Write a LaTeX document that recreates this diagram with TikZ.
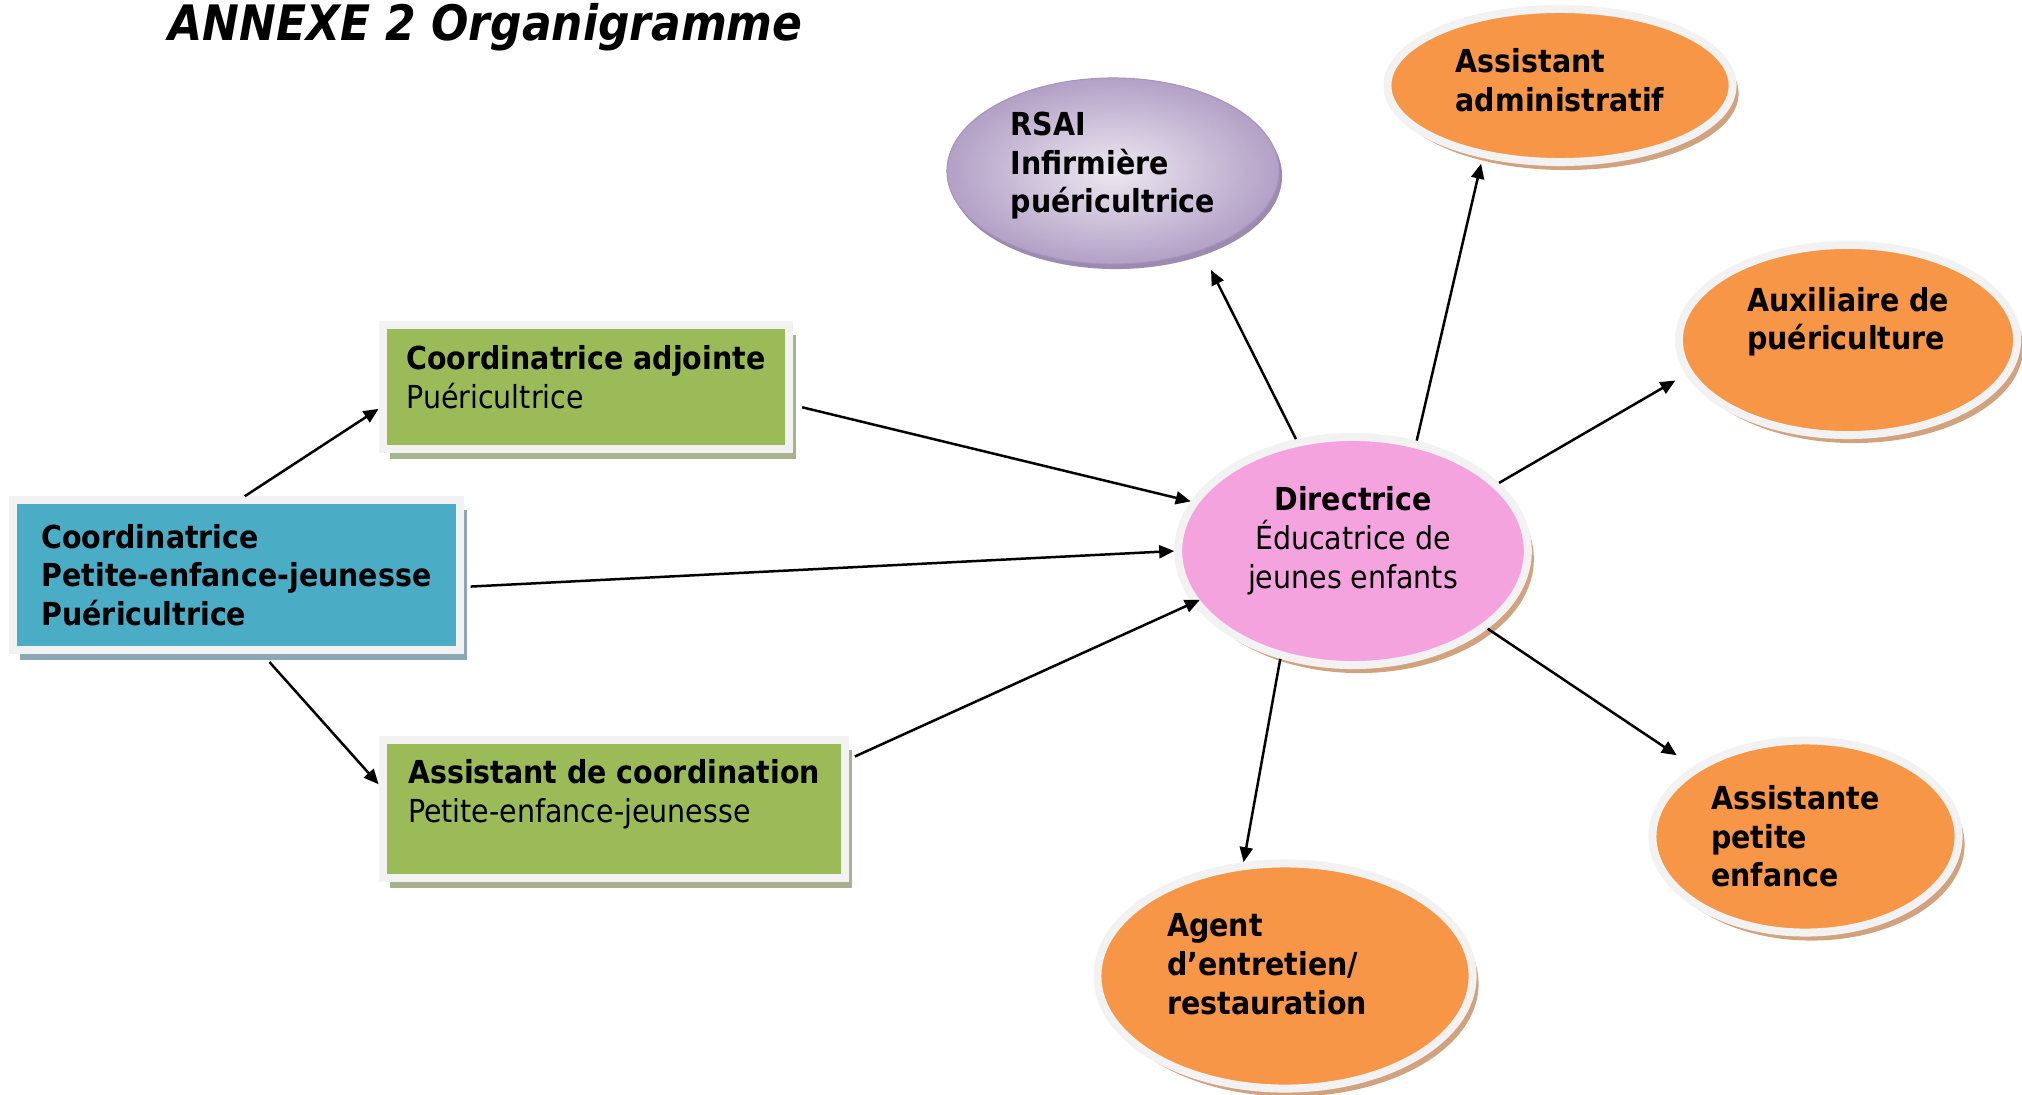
\documentclass[tikz,border=0pt]{standalone}
\usepackage{fontspec}
\setmainfont{DejaVu Sans Condensed}[
  BoldFont={DejaVu Sans Condensed Bold},
  ItalicFont={DejaVu Sans Condensed Oblique},
  BoldItalicFont={DejaVu Sans Condensed Bold Oblique}]
\usetikzlibrary{shapes.geometric,shadows,arrows.meta}

\definecolor{coordblue}{HTML}{4BACC6}
\definecolor{staffgreen}{HTML}{9BBB59}
\definecolor{stafforange}{HTML}{F79646}
\definecolor{directpink}{HTML}{F5A3DF}
\definecolor{framegray}{HTML}{F2F2F2}
\definecolor{blueshadow}{HTML}{8CA8B5}
\definecolor{greenshadow}{HTML}{A7B28F}
\definecolor{ellshadow}{HTML}{D2A27F}
\definecolor{rsaiinner}{HTML}{EDE8F1}
\definecolor{rsaiouter}{HTML}{B3A0C6}
\definecolor{rsaiedge}{HTML}{A793BC}
\definecolor{rsaishadow}{HTML}{9C8AB0}

% extra depth under the last line, lifts the text in its shape
\newcommand{\padlow}[1]{\rule[-#1]{0pt}{#1}}

\tikzset{
  basebox/.style={rectangle, draw=framegray, line width=0.08cm, inner sep=0pt,
    align=left, font=\fontsize{9pt}{11pt}\selectfont},
  bluebox/.style={basebox, fill=coordblue, font=\fontsize{9pt}{11pt}\selectfont\bfseries,
    drop shadow={shadow xshift=0.07cm, shadow yshift=-0.10cm, fill=blueshadow, opacity=1}},
  greenbox/.style={basebox, fill=staffgreen,
    drop shadow={shadow xshift=0.07cm, shadow yshift=-0.10cm, fill=greenshadow, opacity=1}},
  ring/.style={ellipse, draw=framegray, line width=0.08cm, inner sep=0pt,
    align=left, font=\fontsize{9pt}{11pt}\selectfont\bfseries,
    drop shadow={shadow xshift=0.06cm, shadow yshift=-0.08cm, fill=ellshadow, opacity=1}},
  pinkring/.style={ring, fill=directpink, align=center, font=\fontsize{9pt}{11pt}\selectfont},
  orangering/.style={ring, fill=stafforange},
  rsaioval/.style={ellipse, draw=rsaiedge, line width=0.01cm, inner sep=0pt,
    shading=radial, inner color=rsaiinner, outer color=rsaiouter,
    align=left, font=\fontsize{9pt}{11pt}\selectfont\bfseries,
    drop shadow={shadow xshift=0.03cm, shadow yshift=-0.05cm, fill=rsaishadow, opacity=1}},
  titletext/.style={font=\fontsize{13.9pt}{16pt}\selectfont\bfseries\itshape, inner sep=0pt},
  link/.style={-{Triangle[length=0.15cm,width=0.13cm]}, line width=0.025cm}
}

\begin{document}
\begin{tikzpicture}[x=0.01cm,y=-0.01cm]
\useasboundingbox (0,0) rectangle (2022,1094);

\node[titletext, anchor=base west] (TITLE) at (168,41) {ANNEXE 2 Organigramme};

% boxes
\node[bluebox, minimum width=4.46cm, minimum height=1.495cm] (COORD) at (236.5,575)
  {Coordinatrice\\Petite-enfance-jeunesse\\Puéricultrice};
\node[greenbox, minimum width=4.065cm, minimum height=1.23cm] (ADJ) at (586,387)
  {{\bfseries Coordinatrice adjointe}\\Puéricultrice\padlow{0.2cm}};
\node[greenbox, minimum width=4.625cm, minimum height=1.38cm] (ASC) at (614,809)
  {{\bfseries Assistant de coordination}\\Petite-enfance-jeunesse\padlow{0.36cm}};

% ovals
\node[pinkring, minimum width=3.495cm, minimum height=2.28cm] (DIR) at (1353,551)
  {{\bfseries Directrice}\\Éducatrice de\\jeunes enfants\padlow{0.27cm}};
\node[rsaioval, minimum width=3.32cm, minimum height=1.86cm] (RSAI) at (1113,171)
  {RSAI\\Infirmière\\puéricultrice\padlow{0.17cm}};
\node[orangering, minimum width=3.45cm, minimum height=1.53cm] (ADM) at (1560,85.5)
  {Assistant\\administratif\padlow{0.11cm}};
\node[orangering, minimum width=3.38cm, minimum height=1.90cm] (AUX) at (1848,340)
  {Auxiliaire de\\puériculture\padlow{0.43cm}};
\node[orangering, minimum width=3.06cm, minimum height=1.92cm] (APE) at (1805.5,836.5)
  {Assistante\hspace*{0.2cm}\\petite\\enfance};
\node[orangering, minimum width=3.75cm, minimum height=2.25cm] (AGT) at (1285,976)
  {Agent\\d’entretien/\\restauration\hspace*{0.36cm}\padlow{0.24cm}};

% arrows
\draw[link] (COORD.84) -- (ADJ.186);
\draw[link, shorten <=0.11cm] (COORD.-72) -- (ASC.174);
\draw[link, shorten <=0.09cm] (ADJ.-5) -- (DIR.163);
\draw[link, shorten <=0.07cm] (COORD.-3) -- (DIR.180);
\draw[link, shorten <=0.06cm, shorten >=-0.08cm] (ASC.12) -- (DIR.198);
\draw[link, shorten >=0.22cm] (DIR.117) -- (RSAI.-42);
\draw[link, shorten >=0.06cm] (DIR.60) -- (ADM.223);
\draw[link, shorten >=0.12cm] (DIR.25) -- (AUX.192);
\draw[link, shorten >=0.20cm] (DIR.-30) -- (APE.148);
\draw[link] (DIR.236) -- (AGT.110);

\end{tikzpicture}
\end{document}
